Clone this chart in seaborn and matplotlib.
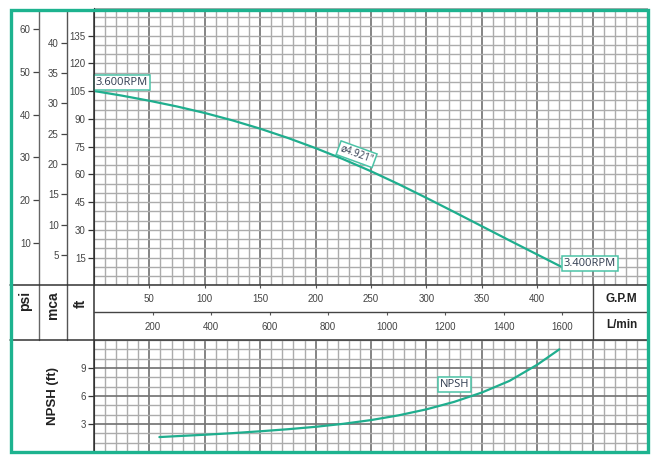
import numpy as np
import pandas as pd
import matplotlib
matplotlib.use("Agg")
import matplotlib.pyplot as plt
import seaborn as sns
from matplotlib.lines import Line2D
from matplotlib.patches import Rectangle
from matplotlib.ticker import MultipleLocator, FixedLocator

# ---------------- data ----------------
gpm_head = [0, 25, 50, 75, 100, 125, 150, 175, 200, 225, 250, 275, 300, 325, 350, 375, 400, 421]
head_ft = [105.1, 102.6, 99.8, 96.7, 93.2, 89.2, 84.7, 79.7, 74.2, 68.2, 61.7, 54.7, 47.3, 39.7, 32.0, 24.3, 16.7, 10.3]

gpm_npsh = [59, 75, 100, 125, 150, 175, 200, 225, 250, 275, 300, 325, 350, 375, 400, 420]
npsh_ft = [1.6, 1.7, 1.85, 2.02, 2.22, 2.44, 2.7, 3.02, 3.42, 3.93, 4.57, 5.37, 6.37, 7.62, 9.35, 11.0]

gpm_ticks = [50, 100, 150, 200, 250, 300, 350, 400]
lmin_ticks = [200, 400, 600, 800, 1000, 1200, 1400, 1600]
ft_ticks = [15, 30, 45, 60, 75, 90, 105, 120, 135]
psi_ticks = [10, 20, 30, 40, 50, 60]
mca_ticks = [5, 10, 15, 20, 25, 30, 35, 40]
npsh_ticks = [3, 6, 9]

label_3600 = "3.600RPM"
label_3400 = "3.400RPM"
label_dia = "ø4.921\""
label_npsh = "NPSH"

GPM_MAX = 500
FT_MAX = 150
NPSH_MAX = 12
FT_PER_PSI = 2.30666
FT_PER_M = 3.28084
LMIN_PER_GPM = 3.78541

# ---------------- style ----------------
sns.set_style("white")
plt.rcParams['font.family'] = ['Liberation Sans', 'DejaVu Sans']

TEAL = "#1db38f"
LINE = "#1fae8e"
BOXEC = "#4cc3a7"
MINOR = "#acacac"
MAJOR = "#757575"
NUMC = "#444444"
LBLC = "#2f3b4f"

W, H = 669, 475
fig = plt.figure(figsize=(W / 100, H / 100), dpi=100)


def fx(p):
    return p / W


def fy(p):
    return 1 - p / H


XL, XR = 94, 648
Y_TOP0, Y_TOP1 = 7.9, 285.4
Y_BAND1, Y_MID = 340, 312
Y_NP1 = 452

# ---------------- top chart ----------------
ax = fig.add_axes([fx(XL), fy(Y_TOP1), (XR - XL) / W, (Y_TOP1 - Y_TOP0) / H])
ax.set_xlim(0, GPM_MAX)
ax.set_ylim(0, FT_MAX)
ax.xaxis.set_major_locator(MultipleLocator(50))
ax.xaxis.set_minor_locator(MultipleLocator(10))
ax.yaxis.set_major_locator(FixedLocator(ft_ticks))
ax.yaxis.set_minor_locator(MultipleLocator(5))
ax.grid(which='minor', axis='both', color=MINOR, lw=1.0)
ax.grid(which='major', axis='y', color=MINOR, lw=1.0)
ax.grid(which='major', axis='x', color=MAJOR, lw=1.25)
ax.set_axisbelow(True)
for s in ['top', 'right', 'bottom']:
    ax.spines[s].set_visible(False)
ax.spines['left'].set_color('#333333')
ax.tick_params(axis='x', which='both', length=0, labelbottom=False)
ax.tick_params(axis='y', which='minor', length=0)
ax.tick_params(axis='y', which='major', left=True, direction='out', length=4, width=0.9,
               color='#333333', labelsize=7, labelcolor=NUMC, pad=2)
sns.lineplot(x=gpm_head, y=head_ft, ax=ax, color=LINE, lw=1.6, zorder=5)
ax.set_xlabel("")
ax.set_ylabel("")

bbox = dict(boxstyle='square,pad=0.18', fc='white', ec=BOXEC, lw=1.1)
ax.text(1.5, 109.7, label_3600, ha='left', va='center', fontsize=8,
        family=['Open Sans', 'DejaVu Sans'], color=LBLC, bbox=bbox, zorder=6)
ax.text(424, 11.9, label_3400, ha='left', va='center', fontsize=8,
        family=['Open Sans', 'DejaVu Sans'], color=LBLC, bbox=bbox, zorder=6)
ax.text(237, 70.9, label_dia, ha='center', va='center', fontsize=7,
        family=['Open Sans', 'DejaVu Sans'], color=LBLC, bbox=bbox, zorder=6,
        rotation=-20, rotation_mode='anchor')

# secondary scales (psi, mca)
for xpos, vmax, ticks in [(39, FT_MAX / FT_PER_PSI, psi_ticks), (67, FT_MAX / FT_PER_M, mca_ticks)]:
    a2 = fig.add_axes([fx(xpos), fy(Y_TOP1), 0.0005, (Y_TOP1 - Y_TOP0) / H])
    a2.set_ylim(0, vmax)
    a2.set_yticks(ticks)
    a2.set_xticks([])
    for s in a2.spines.values():
        s.set_visible(False)
    a2.patch.set_alpha(0)
    a2.tick_params(axis='y', left=True, direction='out', length=4, width=0.9, color='#444444',
                   labelsize=7, labelcolor=NUMC, pad=2)

# ---------------- band (GPM / L/min) ----------------
ab = fig.add_axes([fx(XL), fy(Y_MID), (XR - XL) / W, (Y_MID - Y_TOP1) / H])
ab.set_xlim(0, GPM_MAX)
ab.set_ylim(0, 1)
ab.set_yticks([])
ab.set_xticks(gpm_ticks)
ab.tick_params(axis='x', bottom=False, top=True, labelbottom=False, direction='in',
               length=2.5, width=0.8, color='#555555')
for s in ab.spines.values():
    s.set_visible(False)
ab.patch.set_alpha(0)
for v in gpm_ticks:
    ab.text(v, 0.5, str(v), ha='center', va='center', fontsize=7, color=NUMC)

al = fig.add_axes([fx(XL), fy(Y_BAND1), (XR - XL) / W, (Y_BAND1 - Y_MID) / H])
al.set_xlim(0, GPM_MAX * LMIN_PER_GPM)
al.set_ylim(0, 1)
al.set_yticks([])
al.set_xticks(lmin_ticks)
al.tick_params(axis='x', bottom=False, top=True, labelbottom=False, direction='in',
               length=2.5, width=0.8, color='#555555')
for s in al.spines.values():
    s.set_visible(False)
al.patch.set_alpha(0)
for v in lmin_ticks:
    al.text(v, 0.45, str(v), ha='center', va='center', fontsize=7, color=NUMC)

# ---------------- NPSH chart ----------------
an = fig.add_axes([fx(XL), fy(Y_NP1), (XR - XL) / W, (Y_NP1 - Y_BAND1) / H])
an.set_xlim(0, GPM_MAX)
an.set_ylim(0, NPSH_MAX)
an.xaxis.set_major_locator(MultipleLocator(50))
an.xaxis.set_minor_locator(MultipleLocator(10))
an.yaxis.set_major_locator(FixedLocator(npsh_ticks))
an.yaxis.set_minor_locator(MultipleLocator(1))
an.grid(which='minor', axis='both', color=MINOR, lw=1.0)
an.grid(which='major', axis='both', color=MAJOR, lw=1.25)
an.set_axisbelow(True)
for s in ['top', 'right', 'bottom']:
    an.spines[s].set_visible(False)
an.spines['left'].set_color('#333333')
an.tick_params(axis='x', which='both', length=0, labelbottom=False)
an.tick_params(axis='y', which='minor', length=0)
an.tick_params(axis='y', which='major', left=True, direction='out', length=4, width=0.9,
               color='#333333', labelsize=7, labelcolor=NUMC, pad=2)
sns.lineplot(x=gpm_npsh, y=npsh_ft, ax=an, color=LINE, lw=1.6, zorder=5)
an.set_xlabel("")
an.set_ylabel("")
an.text(325.4, 7.26, label_npsh, ha='center', va='center', fontsize=8,
        family=['Open Sans', 'DejaVu Sans'], color=LBLC, bbox=bbox, zorder=6)

# ---------------- frame lines & labels ----------------
def fline(x0, y0, x1, y1, color='#444444', lw=1.1):
    fig.add_artist(Line2D([fx(x0), fx(x1)], [fy(y0), fy(y1)], transform=fig.transFigure,
                          color=color, lw=lw, zorder=20))

fline(39, 10, 39, Y_BAND1, color='#666666', lw=1.0)
fline(67, 10, 67, Y_BAND1, color='#555555', lw=1.0)
fline(XL, 10, XL, Y_NP1, color='#333333', lw=1.1)
fline(10, Y_TOP1, XR, Y_TOP1, color='#333333', lw=1.1)
fline(10, Y_BAND1, XR, Y_BAND1, color='#333333', lw=1.1)
fline(XL, Y_MID, XR, Y_MID, color='#444444', lw=1.0)
fline(593, Y_TOP1, 593, Y_BAND1, color='#444444', lw=1.0)

bold = dict(fontweight='bold', color='#222222', transform=fig.transFigure)
fig.text(fx(25), fy(301), "psi", rotation=90, ha='center', va='center', fontsize=10, **bold)
fig.text(fx(53), fy(305), "mca", rotation=90, ha='center', va='center', fontsize=10, **bold)
fig.text(fx(81), fy(303), "ft", rotation=90, ha='center', va='center', fontsize=10, **bold)
fig.text(fx(53), fy(396), "NPSH (ft)", rotation=90, ha='center', va='center', fontsize=9.5, **bold)
fig.text(fx(621), fy(298.5), "G.P.M", ha='center', va='center', fontsize=8.5, **bold)
fig.text(fx(622), fy(325.5), "L/min", ha='center', va='center', fontsize=8.5, **bold)

fig.add_artist(Rectangle((fx(10.5), fy(451.5)), fx(648) - fx(10.5), fy(9.5) - fy(451.5),
                         transform=fig.transFigure, fill=False, ec=TEAL, lw=2.4, zorder=30))

fig.savefig("out.png", dpi=100, facecolor='white')
